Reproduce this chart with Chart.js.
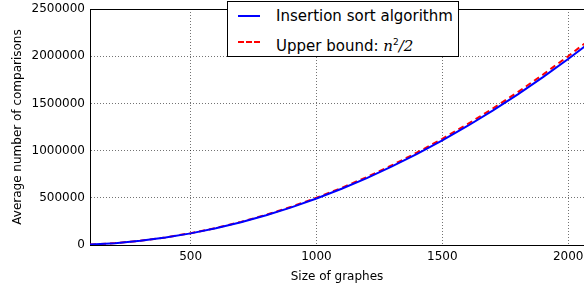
<!DOCTYPE html>
<html>
<head>
<meta charset="utf-8">
<script src="https://cdn.jsdelivr.net/npm/chart.js@4.4.0/dist/chart.umd.min.js"></script>
<style>
  body { margin: 0; background: #fff; }
  #wrap { position: relative; width: 584px; height: 289px; }
  #legendBox {
    position: absolute; left: 227px; top: 1px; width: 230px; height: 54px;
    background: #fff; border: 1px solid #000;
    font-family: "DejaVu Sans", sans-serif; font-size: 15px; color: #000;
  }
  .row { position: absolute; left: 0; height: 20px; line-height: 20px; }
  .row span.lbl { position: absolute; left: 48px; white-space: nowrap; }
  .sample { position: absolute; left: 10px; top: 9px; width: 22px; height: 0; }
  .math { font-family: "DejaVu Serif", serif; font-style: italic; }
</style>
</head>
<body>
<div id="wrap">
  <canvas id="sortchart" width="584" height="289"></canvas>
  <div id="legendBox">
    <div class="row" style="top:4px">
      <div class="sample" style="border-top:2px solid #0000ff"></div>
      <span class="lbl">Insertion sort algorithm</span>
    </div>
    <div class="row" style="top:30px">
      <div class="sample" style="border-top:2px dashed #ff0000"></div>
      <span class="lbl">Upper bound: <span class="math">n</span><sup style="font-size:9px">2</sup><span class="math">/2</span></span>
    </div>
  </div>
</div>
<script>
/* data */
var sizes = [100, 200, 300, 400, 500, 600, 700, 800, 900, 1000, 1100, 1200, 1300, 1400, 1500, 1600, 1700, 1800, 1900, 2000, 2100];
var insertionAvg = [4900, 19700, 44300, 78800, 123100, 177300, 241300, 315200, 398900, 492500, 595900, 709200, 832300, 965300, 1108100, 1260800, 1423300, 1595700, 1777900, 1970000, 2172000];
var upperBound = [5000, 20000, 45000, 80000, 125000, 180000, 245000, 320000, 405000, 500000, 605000, 720000, 845000, 980000, 1125000, 1280000, 1445000, 1620000, 1805000, 2000000, 2205000];
var xTicks = [500, 1000, 1500, 2000];

var font = { family: 'DejaVu Sans', size: 12 };

// top spine like matplotlib
var topLine = {
  id: 'topLine',
  afterDraw: function(chart) {
    var a = chart.chartArea, c = chart.ctx;
    c.save();
    c.strokeStyle = '#000';
    c.lineWidth = 1;
    c.beginPath();
    c.moveTo(a.left, a.top + 0.5);
    c.lineTo(a.right, a.top + 0.5);
    c.stroke();
    c.restore();
  }
};

var ctx = document.getElementById('sortchart');
var sortchart = new Chart(ctx, {
  type: 'line',
  data: {
    datasets: [{
      label: 'Insertion sort algorithm',
      data: sizes.map(function(n, i){ return {x: n, y: insertionAvg[i]}; }),
      borderColor: '#0000ff',
      borderWidth: 2,
      pointRadius: 0,
      fill: false
    }, {
      label: 'Upper bound: n^2/2',
      data: sizes.map(function(n, i){ return {x: n, y: upperBound[i]}; }),
      borderColor: '#ff0000',
      borderWidth: 2,
      borderDash: [6, 4],
      pointRadius: 0,
      fill: false
    }]
  },
  options: {
    responsive: false,
    animation: false,
    layout: { padding: { top: 9, right: -6, left: 0, bottom: 0 } },
    plugins: { legend: { display: false }, tooltip: { enabled: false } },
    scales: {
      x: {
        type: 'linear',
        min: 100,
        max: 2063,
        afterBuildTicks: function(axis){ axis.ticks = xTicks.map(function(v){ return {value: v}; }); },
        afterFit: function(axis){ axis.height = 44; axis.paddingRight = 0; },
        grid: { color: 'rgba(0,0,0,0.55)', lineWidth: 1, drawTicks: false },
        border: { color: '#000', width: 1, dash: [1, 2] },
        ticks: { color: '#000', font: font, padding: 5, maxRotation: 0,
                 callback: function(v){ return String(v); } },
        title: { display: true, text: 'Size of graphes', color: '#000', font: font, padding: { top: 2, bottom: 5 } }
      },
      y: {
        min: 0,
        max: 2500000,
        afterFit: function(axis){ axis.width = 90; axis.paddingTop = 0; },
        grid: { color: 'rgba(0,0,0,0.55)', lineWidth: 1, drawTicks: false },
        border: { color: '#000', width: 1, dash: [1, 2] },
        ticks: { stepSize: 500000, color: '#000', font: font, padding: 5,
                 callback: function(v){ return String(v); } },
        title: { display: true, text: 'Average number of comparisons', color: '#000', font: font, padding: { top: 11, bottom: 0 } }
      }
    }
  },
  plugins: [topLine]
});
</script>
</body>
</html>
